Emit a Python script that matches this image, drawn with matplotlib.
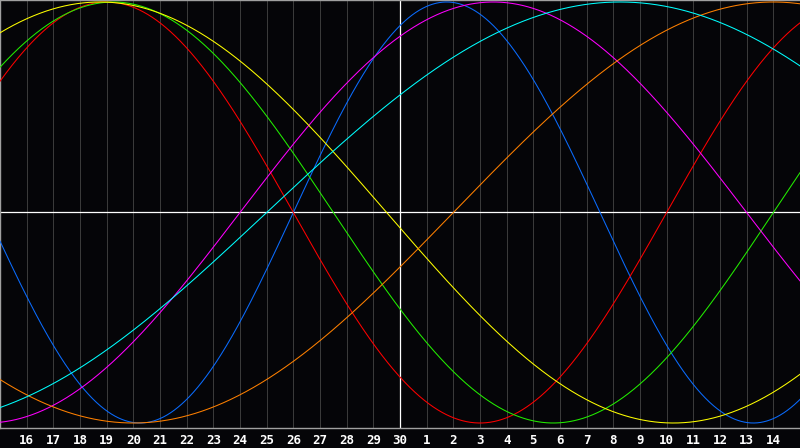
import numpy as np
import matplotlib
matplotlib.use("Agg")
import matplotlib.pyplot as plt

# ---- data ----
day_labels = [16, 17, 18, 19, 20, 21, 22, 23, 24, 25, 26, 27, 28, 29, 30,
              1, 2, 3, 4, 5, 6, 7, 8, 9, 10, 11, 12, 13, 14]
cycle_periods = [23, 28, 33, 38, 43, 48, 53]
cycle_colors = ["#0a6cff", "#ff0000", "#22ee00", "#ff00ff", "#ffff00", "#ff8000", "#00ffff"]
days_since_birth_at_start = 29935   # day count at left edge (day 15)
chart_days = 30
today_index = 15                    # position of day 30 (white marker)

W, H, DPI = 800, 448, 100
fig = plt.figure(figsize=(W / DPI, H / DPI), dpi=DPI)
fig.patch.set_facecolor("#050508")

axes_h = 428
ax = fig.add_axes([0, (H - axes_h) / H, 1, axes_h / H])
ax.set_facecolor("#050508")

px_per_unit = 210.5
ymax = 1 + 2 / px_per_unit
ymin = ymax - axes_h / px_per_unit
ax.set_ylim(ymin, ymax)
ax.set_xlim(0, chart_days)

# grid
for i in range(1, chart_days):
    if i == today_index:
        continue
    ax.axvline(i, color="#3a3a3a", lw=0.72, zorder=1)
ax.axvline(today_index, color="#ffffff", lw=0.9, zorder=2)
ax.axhline(0, color="#ffffff", lw=0.9, zorder=2)

# curves
u = np.linspace(0, chart_days, 3001)
for period, color in zip(cycle_periods, cycle_colors):
    v = np.sin(2 * np.pi * (days_since_birth_at_start + u) / period)
    ax.plot(u, v, color=color, lw=0.75, zorder=3)

# spines
for side in ["left", "top", "bottom"]:
    ax.spines[side].set_color("#a0a0a0")
    ax.spines[side].set_linewidth(1.0)
ax.spines["right"].set_visible(False)

ax.set_xticks(range(1, chart_days))
ax.set_xticklabels([str(d) for d in day_labels],
                   fontfamily="DejaVu Sans Mono", fontweight="bold",
                   fontsize=9, color="white")
ax.tick_params(axis="x", length=0, pad=4)
ax.set_yticks([])

fig.savefig("out.png", dpi=DPI, facecolor=fig.get_facecolor())
